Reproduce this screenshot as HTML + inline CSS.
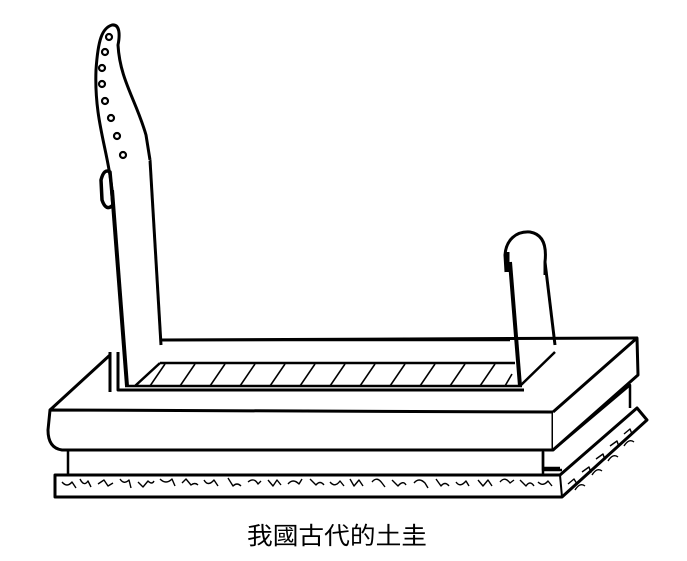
<!DOCTYPE html>
<html><head><meta charset="utf-8"><style>
html,body{margin:0;padding:0;background:#fff;}
svg{display:block}
</style></head><body>
<svg width="687" height="561" viewBox="0 0 687 561" xmlns="http://www.w3.org/2000/svg">
<g fill="none" stroke="#000" stroke-width="2.5" stroke-linejoin="round">
<!-- textured base -->
<path d="M55 475 L560 475 L637 408 L647 420 L562 497 L55 497 Z" stroke-width="3" fill="#fff"/>
<path d="M560 475 L562 497" stroke-width="2"/>
<g stroke-width="1.4">
<path d="M62 482 q5 6 10 0 l4 6 M80 479 q4 8 8 2 l3 6 M98 484 l6 -4 l4 6 l5 -3 M120 479 q4 6 9 1 l2 8 M138 482 l5 5 l5 -6 q4 4 6 0 M160 479 q6 6 12 0 l3 7 M182 483 l4 -4 l5 6 q4 -3 7 0 M204 480 q4 7 10 0 l4 6 M228 478 l5 8 q4 -4 8 0 M248 482 q6 -5 10 2 l3 -3 M268 480 l5 6 l4 -6 l4 5 M288 484 q5 -6 11 0 l3 -5 M310 479 l6 6 q4 -5 8 0 M330 482 q5 6 10 -1 l4 5 M350 479 l4 7 l5 -6 l4 6 M372 482 q5 -6 10 1 l3 4 M392 480 l6 6 q5 -6 8 -1 M414 483 q5 -6 11 0 l3 5 M436 479 l5 7 q4 -5 8 0 M456 482 q4 6 10 -1 l3 5 M478 480 l5 6 l5 -6 l4 6 M500 482 q5 -6 10 1 l4 -3 M520 480 l6 6 q4 -6 8 0 M538 482 q5 5 10 -1 l4 5"/>
<path d="M568 484 l6 -5 l3 5 M582 472 l7 -5 l2 6 M596 459 l7 -5 l2 6 M610 446 l7 -5 l2 6 M624 434 l6 -5 l2 5 M575 490 q5 -8 10 -4 M592 475 q5 -8 10 -4 M608 461 q5 -8 10 -4 M624 446 q5 -8 10 -4"/>
</g>
<!-- lower band -->
<path d="M68 450 L68 475 M543 450 L543 475 M543 468 L560 468 M553 450 L630 385 L630 408" fill="none"/>
<path d="M543 452 L543 470 L562 470" />
<!-- slab front -->
<path d="M50 410 L553 412 L553 450 L62 450 Q48 448 48 430 Z" fill="#fff" stroke-width="3"/>
<path d="M553 412 L637 338 L638 375 L553 450" fill="#fff" stroke-width="3"/>
<!-- slab top face -->
<path d="M50 410 L110 355 M160 340 L637 338" stroke-width="3"/>
<!-- channel -->
<path d="M160 340 L510 340 M160 363 L515 363 M125 386 L522 386 M160 363 L135 386"/>
<g stroke-width="1.6">
<path d="M150 386 L165 364 M180 386 L195 364 M210 386 L225 364 M240 386 L255 364 M270 386 L285 364 M300 386 L315 364 M330 386 L345 364 M360 386 L375 364 M390 386 L405 364 M420 386 L435 364 M450 386 L465 364 M480 386 L495 364 M505 386 L512 374"/>
</g>
<path d="M520 386 L555 352"/>
<!-- left post -->
<path d="M112 190 L127 386" stroke-width="4"/>
<path d="M150 160 L161 345" stroke-width="3"/>
<path d="M112 190 C108 150 94 120 96 70 C98 40 102 28 112 25 C120 24 120 35 118 45 C120 80 136 100 146 135 L150 160" stroke-width="3" fill="#fff"/>
<path d="M101 180 Q104 168 110 172 L113 205 Q106 212 102 200 Z" stroke-width="3.5"/>
<path d="M110 352 L110 392 M118 352 L118 390 L524 390" stroke-width="3"/>
<g stroke-width="2.2">
<circle cx="109" cy="37" r="3"/><circle cx="105" cy="52" r="3"/><circle cx="102" cy="68" r="3"/>
<circle cx="102" cy="84" r="3"/><circle cx="105" cy="101" r="3"/><circle cx="111" cy="118" r="3"/>
<circle cx="117" cy="136" r="3"/><circle cx="123" cy="155" r="3"/>
</g>
<!-- right post -->
<path d="M510 262 L520 386" stroke-width="4"/>
<path d="M545 262 L555 345" stroke-width="3"/>
<path d="M506 272 L505 255 C506 240 516 231 530 232 C542 234 547 244 545 262 L545 275" stroke-width="3"/>
<path d="M507 252 L507 272" stroke-width="5"/>
</g>
<text x="247" y="544" textLength="180" lengthAdjust="spacingAndGlyphs" font-family="'Liberation Sans','Noto Sans CJK SC',sans-serif" font-size="24" fill="#000">我國古代的土圭</text>
</svg>
</body></html>
